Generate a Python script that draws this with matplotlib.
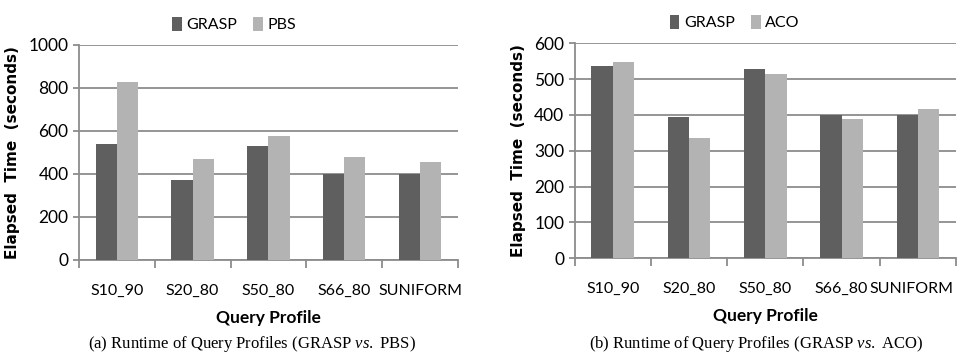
import numpy as np
import matplotlib
matplotlib.use("Agg")
import matplotlib.pyplot as plt
from matplotlib.transforms import ScaledTranslation

# data
profiles = ["S10_90", "S20_80", "S50_80", "S66_80", "SUNIFORM"]
grasp_a = [540, 373, 532, 401, 400]
pbs = [830, 471, 578, 481, 457]
grasp_b = [537, 393, 529, 401, 400]
aco = [547, 335, 515, 389, 416]

plt.rcParams['font.family'] = ['Lato', 'DejaVu Sans']
plt.rcParams['mathtext.fontset'] = 'custom'
plt.rcParams['mathtext.rm'] = 'Liberation Serif'
plt.rcParams['mathtext.it'] = 'Liberation Serif:italic'

dark = '#5f5f5f'
light = '#b3b3b3'
grid_c = '#8c8c8c'

fig = plt.figure(figsize=(9.57, 3.56), dpi=100)
ax1 = fig.add_axes([0.0825, 0.2697, 0.396, 0.604])
ax2 = fig.add_axes([0.6005, 0.2744, 0.3985, 0.604])

def draw(ax, g, other, other_name, ymax, ystep, caption, leg_x, cap_x):
    x = np.arange(len(profiles))
    w = 0.28
    ax.bar(x - w/2, g, w, color=dark, label='GRASP', zorder=3)
    ax.bar(x + w/2, other, w, color=light, label=other_name, zorder=3)
    ax.set_xlim(-0.5, len(profiles) - 0.5)
    ax.set_ylim(0, ymax)
    ax.set_yticks(np.arange(0, ymax + 1, ystep))
    ax.yaxis.grid(True, color=grid_c, linewidth=1.3, zorder=0)
    ax.set_axisbelow(True)
    for s in ['top', 'right']:
        ax.spines[s].set_visible(False)
    for s in ['left', 'bottom']:
        ax.spines[s].set_color(grid_c)
        ax.spines[s].set_linewidth(1.3)
    ax.set_xticks(np.arange(-0.5, len(profiles)), minor=False)
    ax.set_xticklabels([])
    ax.set_xticks(x, minor=True)
    ax.set_xticklabels(profiles, minor=True, fontsize=11.5)
    ax.tick_params(axis='x', which='minor', length=0, pad=17)
    ax.tick_params(axis='x', which='major', length=6, color=grid_c, width=1.3)
    ax.tick_params(axis='y', length=4, color=grid_c, width=1.3, labelsize=12.5)
    ax.set_ylabel('Elapsed  Time  (seconds)', fontweight='bold', fontsize=11,
                  family='DejaVu Sans', labelpad=6)
    ax.set_xlabel('Query Profile', fontweight='bold', fontsize=12.5, labelpad=9)
    ax.legend(loc='lower center', bbox_to_anchor=(leg_x, 1.03), ncol=2, frameon=False,
              fontsize=11.5, handlelength=0.6, handleheight=1.0, handletextpad=0.3,
              columnspacing=1.0, borderaxespad=0)
    fig.text(cap_x, 0.033, caption, ha='center', va='center', fontsize=12,
             family='Liberation Serif')

draw(ax1, grasp_a, pbs, 'PBS', 1000, 200,
     r'(a) Runtime of Query Profiles (GRASP $\it{vs.}$ PBS)', 0.41, 0.263)
draw(ax2, grasp_b, aco, 'ACO', 600, 100,
     r'(b) Runtime of Query Profiles (GRASP $\it{vs.}$ ACO)', 0.42, 0.79)

# the last label on the right chart sits at the figure edge; nudge it inside
last = ax2.get_xticklabels(minor=True)[-1]
last.set_transform(last.get_transform() + ScaledTranslation(-6 / 100, 0, fig.dpi_scale_trans))

fig.savefig('out.png', dpi=100)
